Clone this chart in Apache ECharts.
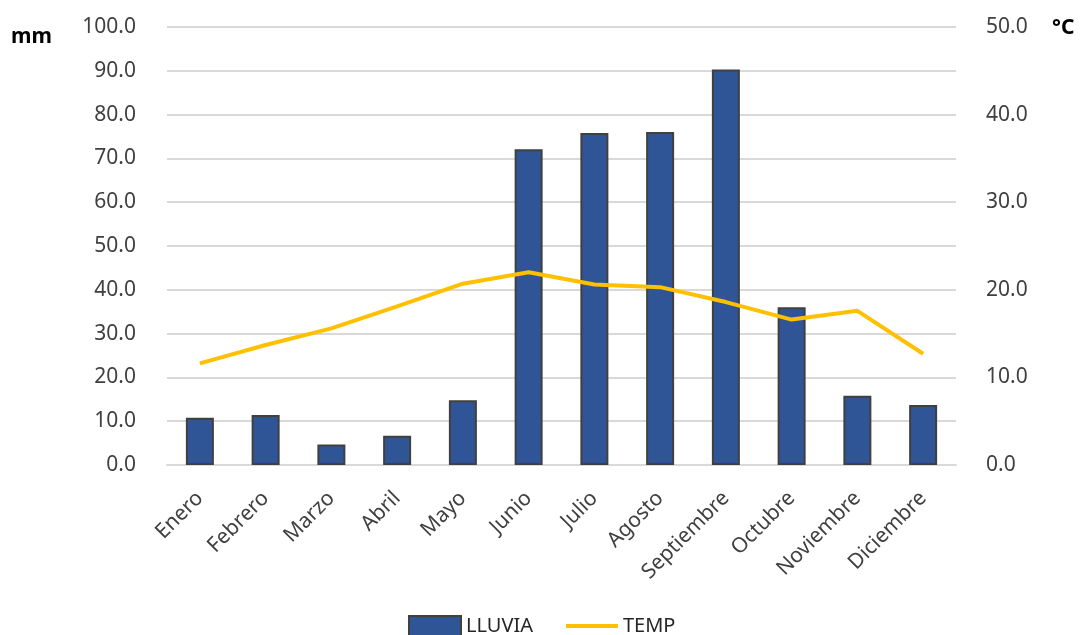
<!DOCTYPE html>
<html>
<head>
<meta charset="utf-8">
<script src="https://cdn.jsdelivr.net/npm/echarts@6/dist/echarts.min.js"></script>
<style>
  html, body { margin: 0; padding: 0; background: #fff; }
  #chart { width: 1084px; height: 635px; }
</style>
</head>
<body>
<div id="chart"></div>
<script>
// climograma: lluvia (mm) + temperatura (°C)
var meses = ["Enero", "Febrero", "Marzo", "Abril", "Mayo", "Junio", "Julio", "Agosto", "Septiembre", "Octubre", "Noviembre", "Diciembre"];
var lluvia = [10.8, 11.4, 4.7, 6.7, 14.8, 72.1, 75.8, 76.0, 90.3, 36.0, 15.8, 13.7];
var temp = [11.6, 13.7, 15.6, 18.1, 20.7, 22.0, 20.6, 20.3, 18.6, 16.6, 17.6, 12.7];

var fuente = "Noto Sans";
var chart = echarts.init(document.getElementById("chart"));

var option = {
  animation: false,
  textStyle: { fontFamily: fuente },
  grid: { left: 167, right: 128, top: 27, bottom: 170 },
  legend: {
    top: 615,
    left: 408,
    padding: 0,
    itemGap: 33,
    textStyle: { fontSize: 20, color: "#262626", fontFamily: fuente },
    data: [
      { name: "LLUVIA", icon: "rect", itemStyle: { color: "#2F5597", borderColor: "#404040", borderWidth: 2 } },
      { name: "TEMP", icon: "path://M0,0 L50,0 L50,4 L0,4 Z" }
    ],
    itemWidth: 52,
    itemHeight: 20
  },
  graphic: [
    { type: "text", left: 11, top: 27, style: { text: "mm", fontSize: 21, fontWeight: "bold", fill: "#000", fontFamily: fuente } },
    { type: "text", left: 1052, top: 18, style: { text: "°C", fontSize: 21, fontWeight: "bold", fill: "#000", fontFamily: fuente } }
  ],
  xAxis: {
    type: "category",
    data: meses,
    axisTick: { show: false },
    axisLine: { lineStyle: { color: "#d9d9d9", width: 2 } },
    axisLabel: { rotate: 45, fontSize: 21, color: "#404040", margin: 30, interval: 0 }
  },
  yAxis: [
    {
      type: "value",
      min: 0,
      max: 100,
      interval: 10,
      axisLine: { show: false },
      axisTick: { show: false },
      splitLine: { lineStyle: { color: "#d9d9d9", width: 2 } },
      axisLabel: { fontSize: 21, color: "#404040", margin: 31, formatter: function (v) { return v.toFixed(1); } }
    },
    {
      type: "value",
      min: 0,
      max: 50,
      interval: 10,
      axisLine: { show: false },
      axisTick: { show: false },
      splitLine: { show: false },
      axisLabel: { fontSize: 21, color: "#404040", margin: 30, formatter: function (v) { return v.toFixed(1); } }
    }
  ],
  series: [
    {
      name: "LLUVIA",
      type: "bar",
      data: lluvia,
      barWidth: 28,
      itemStyle: { color: "#2F5597", borderColor: "#404040", borderWidth: 2 }
    },
    {
      name: "TEMP",
      type: "line",
      yAxisIndex: 1,
      data: temp,
      symbol: "none",
      lineStyle: { color: "#FFC000", width: 4 },
      itemStyle: { color: "#FFC000" }
    }
  ]
};

chart.setOption(option);
</script>
</body>
</html>
